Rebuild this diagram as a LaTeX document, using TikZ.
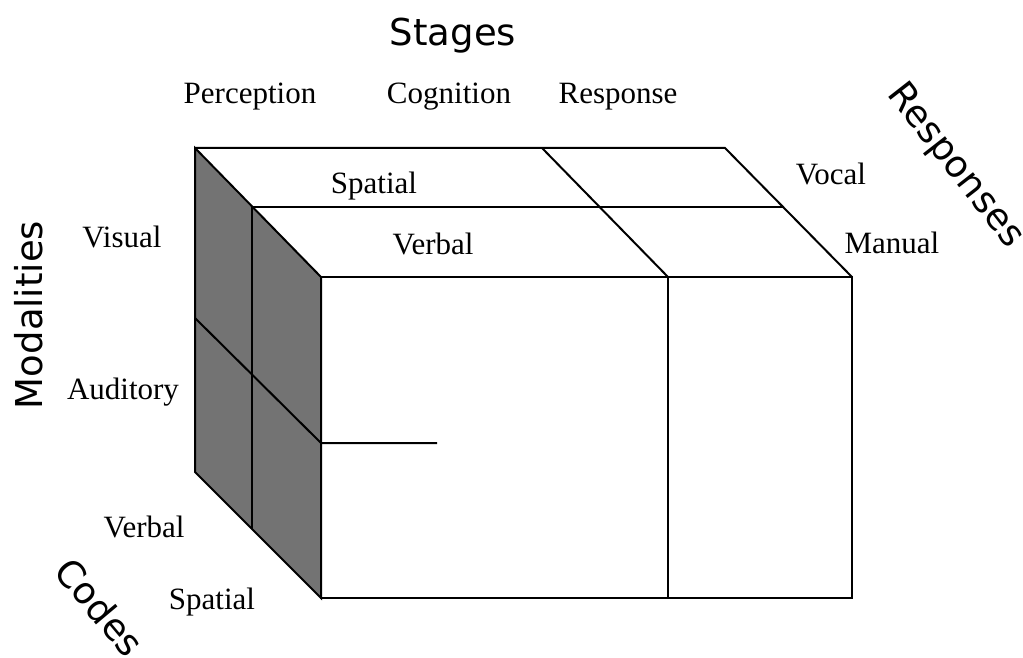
\documentclass[tikz,border=0pt]{standalone}
\usepackage{fontspec}
\setmainfont{Liberation Serif}
\newfontfamily\axisfont{DejaVu Sans}
\usepackage{tikz}
\tikzstyle{axis}  = [font=\axisfont\fontsize{18.5}{22}\selectfont, inner sep=0pt]
\tikzstyle{level} = [font=\fontsize{15.5}{18}\selectfont, inner sep=0pt]
\tikzstyle{edge}  = [line width=1pt, line join=miter]
\tikzstyle{side}  = [fill=black!55]

\begin{document}
\begin{tikzpicture}[x=0.5pt, y=-0.5pt]
    \useasboundingbox (0,0) rectangle (1023,658);

    % corners of the block
    \coordinate (btl) at (195,148);
    \coordinate (btr) at (725,148);
    \coordinate (bbl) at (195,472);
    \coordinate (ftl) at (321,277);
    \coordinate (ftr) at (852,277);
    \coordinate (fbl) at (321,598);
    \coordinate (fbr) at (852,598);
    % code split (half depth)
    \coordinate (mtl) at (252,207);
    \coordinate (mtr) at (784,207);
    \coordinate (mbl) at (252,529);
    % stage split
    \coordinate (sb)  at (542,148);
    \coordinate (sf)  at (668,277);
    \coordinate (sfb) at (668,598);
    % modality split
    \coordinate (vb)  at (195,318);
    \coordinate (vf)  at (321,443);
    \coordinate (ve)  at (437,443);

    % shaded side face
    \draw [edge, side] (btl) -- (ftl) -- (fbl) -- (bbl) -- cycle;
    \draw [edge] (mtl) -- (mbl);
    \draw [edge] (vb) -- (vf) -- (ve);

    % top face
    \draw [edge] (btl) -- (btr) -- (ftr);
    \draw [edge] (mtl) -- (mtr);
    \draw [edge] (sb) -- (sf);

    % front face
    \draw [edge] (ftl) rectangle (fbr);
    \draw [edge] (sf) -- (sfb);

    % dimension titles
    \node (stages) [axis] at (453,36) {Stages};
    \node (modal)  [axis, rotate=90] at (29,315) {Modalities};
    \node (codes)  [axis, rotate=-50] at (100,607) {Codes};
    \node (resp)   [axis, rotate=-52] at (955,166) {Responses};

    % level names
    \node (perc)  [level] at (250,97)  {Perception};
    \node (cogn)  [level] at (449,97)  {Cognition};
    \node (rspn)  [level] at (618,97)  {Response};
    \node (tsp)   [level] at (374,186) {Spatial};
    \node (tvb)   [level] at (433,244) {Verbal};
    \node (vocal) [level] at (831,174) {Vocal};
    \node (man)   [level] at (892,243) {Manual};
    \node (vis)   [level] at (122,237) {Visual};
    \node (aud)   [level] at (123,392) {Auditory};
    \node (lvb)   [level] at (144,527) {Verbal};
    \node (lsp)   [level] at (212,602) {Spatial};
\end{tikzpicture}
\end{document}
